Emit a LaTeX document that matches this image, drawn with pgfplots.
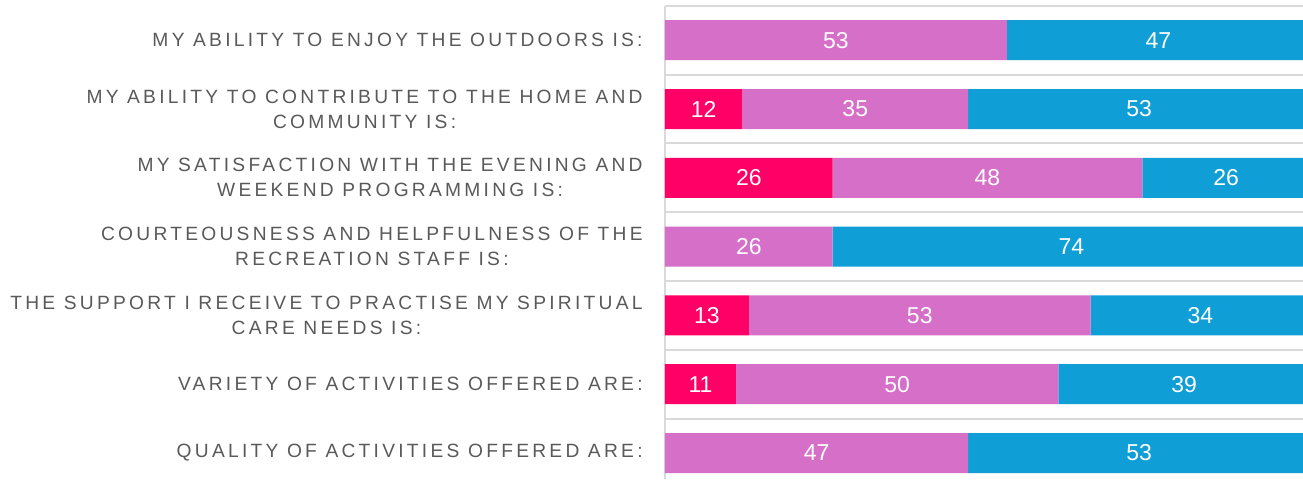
\documentclass[border=0pt]{standalone}
\usepackage{pgfplots}
\pgfplotsset{compat=1.18}
\usepackage{fontspec}
\setmainfont{Liberation Sans}
\newfontfamily\labfont[LetterSpace=17]{Liberation Sans}
\definecolor{cpink}{HTML}{FF0066}
\definecolor{corchid}{HTML}{D66FC8}
\definecolor{cblue}{HTML}{0F9ED5}
\definecolor{cgrid}{HTML}{D9D9D9}
\definecolor{ctext}{HTML}{595959}
\pgfplotsset{base/.style={
  at={(0,0)}, anchor=south west,
  scale only axis, width=322.5pt, height=236.6pt,
  xmin=0, xmax=100, ymin=-0.5, ymax=6.378, y dir=reverse,
}}
\begin{document}
\begin{tikzpicture}
\begin{axis}[base,
  xbar stacked, bar width=20pt,
  axis x line=none, axis y line*=left,
  y axis line style={cgrid, line width=1pt, -},
  ytick={0,...,6},
  yticklabels={
    {MY ABILITY TO ENJOY THE OUTDOORS IS:},
    {MY ABILITY TO CONTRIBUTE TO THE HOME AND\\COMMUNITY IS:},
    {MY SATISFACTION WITH THE EVENING AND\\WEEKEND PROGRAMMING IS:},
    {COURTEOUSNESS AND HELPFULNESS OF THE\\RECREATION STAFF IS:},
    {THE SUPPORT I RECEIVE TO PRACTISE MY SPIRITUAL\\CARE NEEDS IS:},
    {VARIETY OF ACTIVITIES OFFERED ARE:},
    {QUALITY OF ACTIVITIES OFFERED ARE:}},
  yticklabel style={font=\labfont\fontsize{9.6}{12.5}\selectfont, text=ctext, align=center, inner sep=0pt, xshift=-11pt},
  minor ytick={-0.5,0.5,1.5,2.5,3.5,4.5,5.5},
  yminorgrids, minor grid style={cgrid, line width=1pt},
  major tick length=0pt, minor tick length=0pt,
]
\addplot[fill=cpink, draw=none] coordinates {(0,0) (12,1) (26,2) (0,3) (13,4) (11,5) (0,6)};
\addplot[fill=corchid, draw=none] coordinates {(53,0) (35,1) (48,2) (26,3) (53,4) (50,5) (47,6)};
\addplot[fill=cblue, draw=none] coordinates {(47,0) (53,1) (26,2) (74,3) (34,4) (39,5) (53,6)};
\end{axis}
\begin{axis}[base, hide axis]
\addplot[draw=none, mark=none, nodes near coords, point meta=explicit symbolic,
  nodes near coords style={anchor=center, text=white, font=\fontsize{11.5}{14}\selectfont}]
  coordinates {
  (26.5,0) [53] (76.5,0) [47]
  (6,1) [12] (29.5,1) [35] (73.5,1) [53]
  (13,2) [26] (50,2) [48] (87,2) [26]
  (13,3) [26] (63,3) [74]
  (6.5,4) [13] (39.5,4) [53] (83,4) [34]
  (5.5,5) [11] (36,5) [50] (80.5,5) [39]
  (23.5,6) [47] (73.5,6) [53]
  };
\end{axis}
\pgfresetboundingbox
\path (-332.5pt,0) rectangle (319pt,239.5pt);
\end{tikzpicture}
\end{document}
